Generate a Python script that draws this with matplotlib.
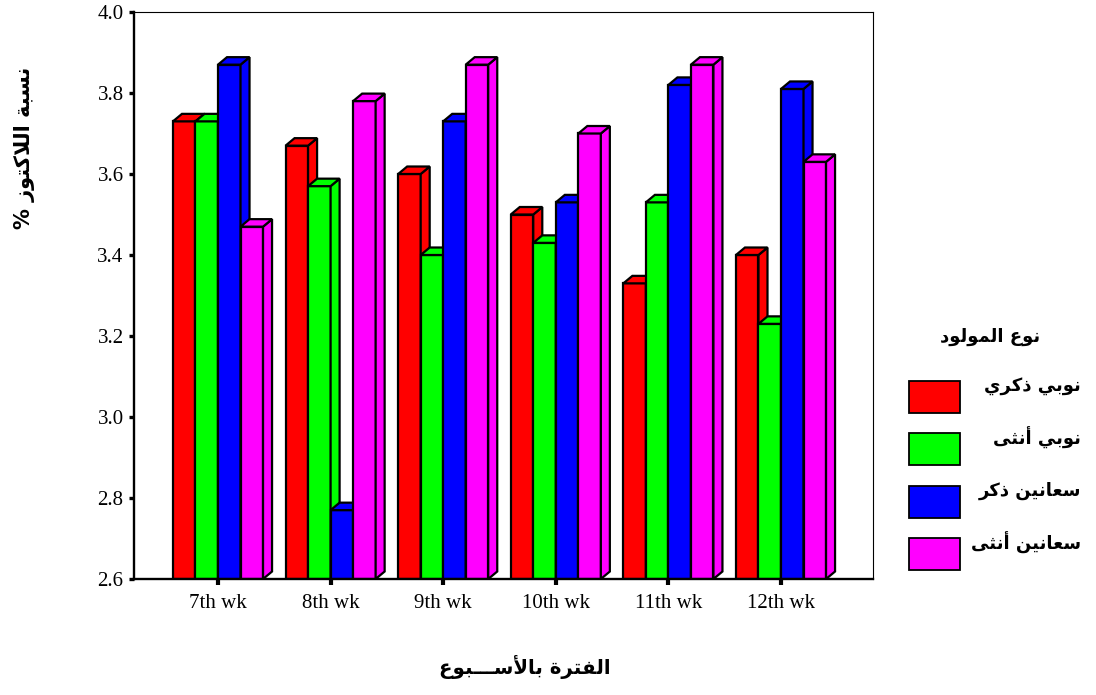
import matplotlib
matplotlib.use("Agg")
import matplotlib.pyplot as plt
from matplotlib.patches import Polygon, Rectangle

# ---- data -------------------------------------------------------------
weeks = ["7th wk", "8th wk", "9th wk", "10th wk", "11th wk", "12th wk"]
series_names = ["نوبي ذكري", "نوبي أنثى", "سعانين ذكر", "سعانين أنثى"]
nubi_male = [3.73, 3.67, 3.60, 3.50, 3.33, 3.40]
nubi_female = [3.73, 3.57, 3.40, 3.43, 3.53, 3.23]
saanen_male = [3.87, 2.77, 3.73, 3.53, 3.82, 3.81]
saanen_female = [3.47, 3.78, 3.87, 3.70, 3.87, 3.63]
y_ticks = [2.6, 2.8, 3.0, 3.2, 3.4, 3.6, 3.8, 4.0]

y_label = "نسبة اللاكتوز %"
x_label = "الفترة بالأســـبوع"
legend_title = "نوع المولود"

colors = ["#ff0000", "#00ff00", "#0000ff", "#ff00ff"]
series = [nubi_male, nubi_female, saanen_male, saanen_female]

# ---- minimal Arabic shaping (presentation forms + RTL ordering) -------
FORMS = {
    "\u0627": ("\uFE8D", "\uFE8E", None, None),
    "\u0623": ("\uFE83", "\uFE84", None, None),
    "\u0628": ("\uFE8F", "\uFE90", "\uFE91", "\uFE92"),
    "\u0629": ("\uFE93", "\uFE94", None, None),
    "\u062A": ("\uFE95", "\uFE96", "\uFE97", "\uFE98"),
    "\u062B": ("\uFE99", "\uFE9A", "\uFE9B", "\uFE9C"),
    "\u062F": ("\uFEA9", "\uFEAA", None, None),
    "\u0630": ("\uFEAB", "\uFEAC", None, None),
    "\u0631": ("\uFEAD", "\uFEAE", None, None),
    "\u0632": ("\uFEAF", "\uFEB0", None, None),
    "\u0633": ("\uFEB1", "\uFEB2", "\uFEB3", "\uFEB4"),
    "\u0639": ("\uFEC9", "\uFECA", "\uFECB", "\uFECC"),
    "\u0641": ("\uFED1", "\uFED2", "\uFED3", "\uFED4"),
    "\u0643": ("\uFED9", "\uFEDA", "\uFEDB", "\uFEDC"),
    "\u0644": ("\uFEDD", "\uFEDE", "\uFEDF", "\uFEE0"),
    "\u0645": ("\uFEE1", "\uFEE2", "\uFEE3", "\uFEE4"),
    "\u0646": ("\uFEE5", "\uFEE6", "\uFEE7", "\uFEE8"),
    "\u0648": ("\uFEED", "\uFEEE", None, None),
    "\u0649": ("\uFEEF", "\uFEF0", None, None),
    "\u064A": ("\uFEF1", "\uFEF2", "\uFEF3", "\uFEF4"),
    "\u0640": ("\u0640", "\u0640", "\u0640", "\u0640"),
    "LA": ("\uFEFB", "\uFEFC", None, None),
    "LAH": ("\uFEF7", "\uFEF8", None, None),
}


def shape_ar(text):
    tokens = []
    i = 0
    while i < len(text):
        ch = text[i]
        if ch == "\u0644" and i + 1 < len(text) and text[i + 1] in ("\u0627", "\u0623"):
            tokens.append("LA" if text[i + 1] == "\u0627" else "LAH")
            i += 2
            continue
        tokens.append(ch)
        i += 1
    out = []
    for k, t in enumerate(tokens):
        if t not in FORMS:
            out.append(t)
            continue
        f = FORMS[t]
        prev = tokens[k - 1] if k > 0 else None
        nxt = tokens[k + 1] if k + 1 < len(tokens) else None
        jp = prev in FORMS and FORMS[prev][2] is not None
        jn = f[2] is not None and nxt in FORMS
        if jp and jn:
            out.append(f[3])
        elif jp:
            out.append(f[1])
        elif jn:
            out.append(f[2])
        else:
            out.append(f[0])
    return "".join(out)[::-1]


# ---- figure -----------------------------------------------------------
W, H = 1096, 695
fig = plt.figure(figsize=(W / 100, H / 100), dpi=100)
ax = fig.add_axes([134 / W, 1 - 579 / H, (873 - 134) / W, (579 - 12) / H])

base = y_ticks[0]
bar_w = 0.2
dx, dy = 0.08, 0.0185
edge_lw = 1.6

z = 2.0
for ci in range(len(weeks)):
    for si, vals in enumerate(series):
        v = vals[ci]
        xc = ci + (si - 1.5) * bar_w
        c = colors[si]
        z += 0.01
        ax.bar(xc, v - base, bottom=base, width=bar_w, color=c,
               edgecolor="black", linewidth=edge_lw, zorder=z)
        xl, xr = xc - bar_w / 2, xc + bar_w / 2
        side = Polygon([(xr, base), (xr + dx, base + dy), (xr + dx, v + dy), (xr, v)],
                       closed=True, facecolor=c, edgecolor="black",
                       linewidth=edge_lw, joinstyle="miter", zorder=z)
        top = Polygon([(xl, v), (xl + dx, v + dy), (xr + dx, v + dy), (xr, v)],
                      closed=True, facecolor=c, edgecolor="black",
                      linewidth=edge_lw, joinstyle="miter", zorder=z)
        ax.add_patch(side)
        ax.add_patch(top)

ax.set_xlim(-0.746, 5.817)
ax.set_ylim(y_ticks[0], y_ticks[-1])
ax.set_yticks(y_ticks)
ax.set_yticklabels([f"{t:.1f}" for t in y_ticks])
ax.set_xticks(range(len(weeks)))
ax.set_xticklabels(weeks)

for s in ("left", "bottom"):
    ax.spines[s].set_linewidth(1.7)
for s in ("top", "right"):
    ax.spines[s].set_linewidth(0.8)
ax.tick_params(axis="y", direction="out", length=3.5, width=2.4, pad=4)
ax.tick_params(axis="x", direction="out", length=4, width=3, pad=7)
for lab in ax.get_xticklabels() + ax.get_yticklabels():
    lab.set_fontfamily("Liberation Serif")
    lab.set_fontsize(15)

ar_font = dict(family="DejaVu Sans", weight="bold")

fig.text(25 / W, 1 - 148 / H, shape_ar(y_label), rotation=90,
         ha="center", va="center", fontsize=15, **ar_font)
fig.text(525 / W, 1 - 667 / H, shape_ar(x_label),
         ha="center", va="center", fontsize=14.2, **ar_font)

# legend drawn at the right of the plot area
fig.text(990 / W, 1 - 337 / H, shape_ar(legend_title),
         ha="center", va="center", fontsize=13, **ar_font)
for i, (name, c) in enumerate(zip(series_names, colors)):
    top_px = 381 + i * 52.3
    fig.add_artist(Rectangle((909 / W, 1 - (top_px + 32) / H), 51 / W, 32 / H,
                             transform=fig.transFigure, facecolor=c,
                             edgecolor="black", linewidth=1.3))
    fig.text(1081 / W, 1 - (top_px + 5) / H, shape_ar(name),
             ha="right", va="center", fontsize=13, **ar_font)

fig.savefig("out.png", dpi=100)
